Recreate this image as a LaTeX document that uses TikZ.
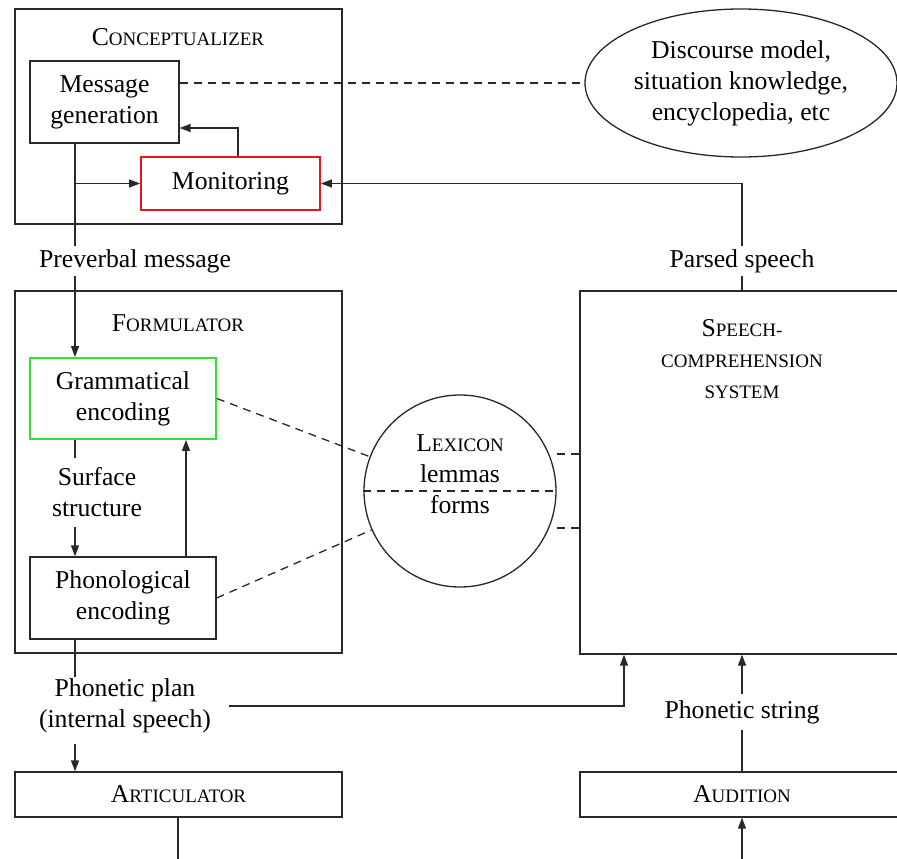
\documentclass[tikz,border=0pt]{standalone}
\usepackage{fontspec}
\setmainfont{Liberation Serif}
\usetikzlibrary{arrows.meta,shapes.geometric}
\definecolor{ln}{RGB}{40,40,40}
\definecolor{monred}{RGB}{225,25,25}
\definecolor{gramgreen}{RGB}{50,225,50}
\newcommand{\bigsz}{\fontsize{25.7pt}{31pt}\selectfont}
\newcommand{\scsz}{\fontsize{19pt}{31pt}\selectfont}
\newcommand{\fsc}[2]{{\bigsz #1}{\scsz #2}}
\tikzset{
  box/.style={draw=ln, line width=1.3pt, inner sep=0pt},
  conn/.style={draw=ln, line width=1.3pt},
  arr/.style={conn, -{Triangle[length=11pt,width=8pt]}},
  dsh/.style={conn, dash pattern=on 8pt off 6pt},
  hot/.style={line width=1.8pt}
}
\begin{document}
\begin{tikzpicture}[x=1pt,y=-1pt,font=\bigsz]
\useasboundingbox (0,0) rectangle (897,859);
\clip (0,0) rectangle (897,859);
% coordinates
\coordinate (lx) at (75,0);
\coordinate (ux) at (186,0);
\coordinate (mx) at (238,0);
\coordinate (rx) at (742,0);
\coordinate (px) at (624,0);
\coordinate (ax) at (178,0);
\coordinate (my) at (0,128);
\coordinate (ya) at (0,454);
\coordinate (yb) at (0,528);
\coordinate (bot) at (178,861);
% conceptualizer
\node[box, minimum width=327, minimum height=215] (concept) at (178.5,116.5) {};
\node (concepttitle) at (178,37) {\fsc{C}{ONCEPTUALIZER}};
\node[box, minimum width=149, minimum height=82, align=center] (msg) at (104.5,102) {Message\\generation};
\node[box, hot, draw=monred, minimum width=179, minimum height=53] (mon) at (230.5,183.5) {Monitoring};
\node[ellipse, draw=ln, line width=1.3pt, minimum width=312, minimum height=148, align=center, inner sep=0pt] (disc) at (741,83) {Discourse model,\\situation knowledge,\\encyclopedia, etc};
% formulator
\node[box, minimum width=327, minimum height=362] (form) at (178.5,472) {};
\node (formtitle) at (178,323) {\fsc{F}{ORMULATOR}};
\node[box, hot, draw=gramgreen, minimum width=186, minimum height=81, align=center] (gram) at (123,398.5) {Grammatical\\encoding};
\node[box, minimum width=186, minimum height=82, align=center] (phon) at (123,598) {Phonological\\encoding};
\node[align=center, inner xsep=3pt, inner ysep=10pt] (surf) at (97,492.5) {Surface\\structure};
% lexicon
\node[circle, draw=ln, line width=1.3pt, minimum size=192, inner sep=0pt] (lex) at (460,491) {};
\node[align=center] (lextext) at (460,474) {\fsc{L}{EXICON}\\lemmas\\forms};
% speech comprehension
\node[box, minimum width=324, minimum height=363] (speech) at (742,472.5) {};
\node[align=center] (speechtitle) at (742,359.5) {\fsc{S}{PEECH-}\\{\scsz COMPREHENSION}\\{\scsz SYSTEM}};
% labels
\node[inner sep=3pt] (pv) at (135,261) {Preverbal message};
\node[inner sep=3pt] (ps) at (742,261) {Parsed speech};
\node[align=center, inner xsep=18pt, inner ysep=2pt] (pp) at (125,706) {Phonetic plan\\(internal speech)};
\node[inner sep=6pt] (pst) at (742,712) {Phonetic string};
\coordinate (ppb) at ([yshift=-9pt]pp.south);
% articulator / audition
\node[box, minimum width=327, minimum height=45] (art) at (178.5,794.5) {\fsc{A}{RTICULATOR}};
\node[box, minimum width=324, minimum height=45] (aud) at (742,794.5) {\fsc{A}{UDITION}};
% connectors
\draw[conn] (msg.south -| lx) -- (pv.north -| lx);
\draw[arr] (pv.south -| lx) -- (gram.north -| lx);
\draw[arr] (mon.west -| lx) -- (mon.west);
\draw[arr] (mon.north -| mx) |- (msg.east |- my);
\draw[dsh] (disc.west -| msg.east) -- (disc.west);
\draw[conn] (speech.north) -- (ps.south);
\draw[arr] (ps.north) |- (mon.east);
\draw[conn] (gram.south -| lx) -- (surf.north -| lx);
\draw[arr] (surf.south -| lx) -- (phon.north -| lx);
\draw[arr] (phon.north -| ux) -- (gram.south -| ux);
\draw[dsh] (gram.east) -- (lex);
\draw[dsh] (phon.east) -- (lex);
\draw[dsh] (lex.west) -- (lex.east);
\draw[dsh] (lex.east |- ya) -- (speech.west |- ya);
\draw[dsh] (lex.east |- yb) -- (speech.west |- yb);
\draw[conn] (phon.south -| lx) -- (pp.north -| lx);
\draw[arr] (ppb -| lx) -- (art.north -| lx);
\draw[arr] (pp.east) -| (speech.south -| px);
\draw[conn] (aud.north) -- (pst.south);
\draw[arr] (pst.north) -- (speech.south);
\draw[arr] (art.south -| ax) -- (bot) -| (aud.south);
\end{tikzpicture}
\end{document}
